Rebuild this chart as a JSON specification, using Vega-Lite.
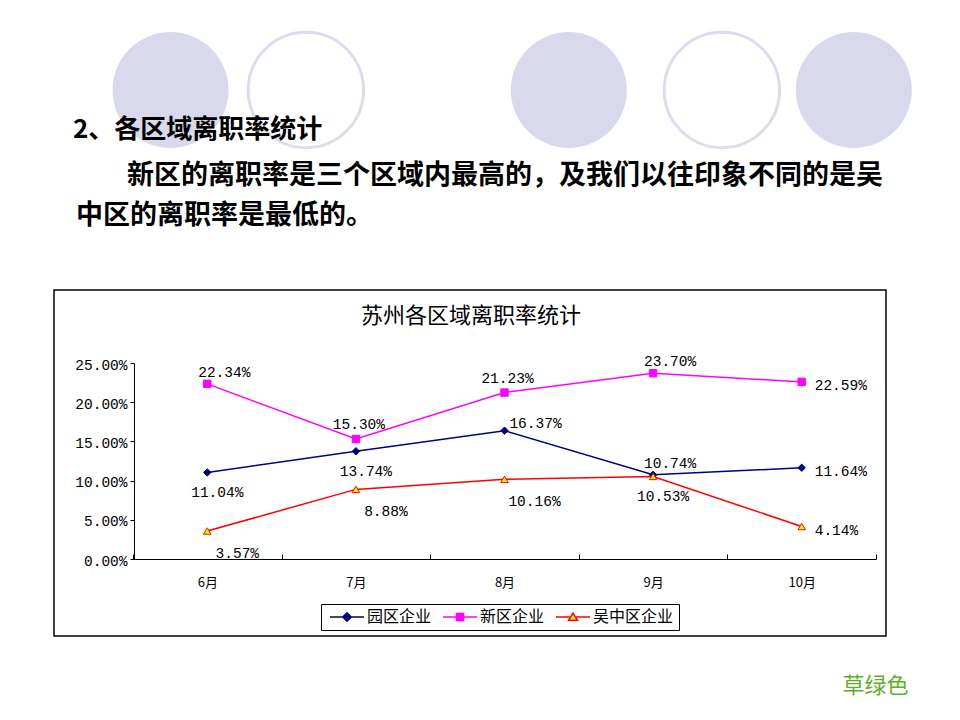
{
  "$schema": "https://vega.github.io/schema/vega-lite/v6.json",
  "width": 960,
  "height": 720,
  "padding": 0,
  "autosize": {"type": "none"},
  "background": "#ffffff",
  "config": {"view": {"stroke": null}, "font": "Noto Sans CJK SC"},
  "datasets": {
    "circles": [
      {"cx": 127.9, "cy": 67.5, "style": "filled"},
      {"cx": 229.4, "cy": 67.5, "style": "outline"},
      {"cx": 426.6, "cy": 67.5, "style": "filled"},
      {"cx": 541.4, "cy": 67.5, "style": "outline"},
      {"cx": 640.4, "cy": 67.5, "style": "filled"}
    ],
    "frame": [{"x0": 40.5, "y0": 217.5, "x1": 664.5, "y1": 477}],
    "texts": [
      {"kind": "heading", "text": "2、各区域离职率统计", "x": 54.75, "y": 97.5},
      {"kind": "para", "text": "新区的离职率是三个区域内最高的，及我们以往印象不同的是吴", "x": 95.25, "y": 132},
      {"kind": "para", "text": "中区的离职率是最低的。", "x": 57, "y": 162},
      {"kind": "title", "text": "苏州各区域离职率统计", "x": 353.25, "y": 237},
      {"kind": "note", "text": "草绿色", "x": 656.6, "y": 514.5}
    ],
    "rates": [
      {"month": "6月", "series": "园区企业", "rate": 0.1104, "pos": "below"},
      {"month": "7月", "series": "园区企业", "rate": 0.1374, "pos": "below"},
      {"month": "8月", "series": "园区企业", "rate": 0.1637, "pos": "right-above"},
      {"month": "9月", "series": "园区企业", "rate": 0.1074, "pos": "above-right"},
      {"month": "10月", "series": "园区企业", "rate": 0.1164, "pos": "right"},
      {"month": "6月", "series": "新区企业", "rate": 0.2234, "pos": "above-right"},
      {"month": "7月", "series": "新区企业", "rate": 0.153, "pos": "above"},
      {"month": "8月", "series": "新区企业", "rate": 0.2123, "pos": "above"},
      {"month": "9月", "series": "新区企业", "rate": 0.237, "pos": "above-right"},
      {"month": "10月", "series": "新区企业", "rate": 0.2259, "pos": "right"},
      {"month": "6月", "series": "吴中区企业", "rate": 0.0357, "pos": "below-right"},
      {"month": "7月", "series": "吴中区企业", "rate": 0.0888, "pos": "below-right"},
      {"month": "8月", "series": "吴中区企业", "rate": 0.1016, "pos": "below-right"},
      {"month": "9月", "series": "吴中区企业", "rate": 0.1053, "pos": "below"},
      {"month": "10月", "series": "吴中区企业", "rate": 0.0414, "pos": "right"}
    ]
  },
  "layer": [
    {
      "layer": [
        {
          "data": {"name": "circles"},
          "transform": [{"filter": {"field": "style", "equal": "filled"}}],
          "mark": {"type": "point", "shape": "circle", "filled": true, "size": 13456, "color": "#d9d9ed", "opacity": 1, "strokeWidth": 0},
          "encoding": {
            "x": {"field": "cx", "type": "quantitative", "scale": {"domain": [0, 720], "nice": false, "zero": false}, "axis": null},
            "y": {"field": "cy", "type": "quantitative", "scale": {"domain": [0, 540], "reverse": true, "nice": false, "zero": false}, "axis": null}
          }
        },
        {
          "data": {"name": "circles"},
          "transform": [{"filter": {"field": "style", "equal": "outline"}}],
          "mark": {"type": "point", "shape": "circle", "filled": false, "size": 13317, "color": "#dcdcef", "opacity": 1, "strokeWidth": 3},
          "encoding": {
            "x": {"field": "cx", "type": "quantitative", "scale": {"domain": [0, 720], "nice": false, "zero": false}, "axis": null},
            "y": {"field": "cy", "type": "quantitative", "scale": {"domain": [0, 540], "reverse": true, "nice": false, "zero": false}, "axis": null}
          }
        },
        {
          "data": {"name": "frame"},
          "mark": {"type": "rect", "fill": "#ffffff", "stroke": "#000000", "strokeWidth": 1.5},
          "encoding": {
            "x": {"field": "x0", "type": "quantitative", "scale": {"domain": [0, 720], "nice": false, "zero": false}, "axis": null},
            "x2": {"field": "x1"},
            "y": {"field": "y0", "type": "quantitative", "scale": {"domain": [0, 540], "reverse": true, "nice": false, "zero": false}, "axis": null},
            "y2": {"field": "y1"}
          }
        },
        {
          "data": {"name": "texts"},
          "transform": [{"filter": {"field": "kind", "equal": "heading"}}],
          "mark": {"type": "text", "align": "left", "baseline": "middle", "font": "Noto Sans CJK SC", "fontSize": 26, "fontWeight": "bold", "color": "#000000"},
          "encoding": {
            "x": {"field": "x", "type": "quantitative", "scale": {"domain": [0, 720], "nice": false, "zero": false}, "axis": null},
            "y": {"field": "y", "type": "quantitative", "scale": {"domain": [0, 540], "reverse": true, "nice": false, "zero": false}, "axis": null},
            "text": {"field": "text"}
          }
        },
        {
          "data": {"name": "texts"},
          "transform": [{"filter": {"field": "kind", "equal": "para"}}],
          "mark": {"type": "text", "align": "left", "baseline": "middle", "font": "Noto Sans CJK SC", "fontSize": 27, "fontWeight": "bold", "color": "#000000"},
          "encoding": {
            "x": {"field": "x", "type": "quantitative", "scale": {"domain": [0, 720], "nice": false, "zero": false}, "axis": null},
            "y": {"field": "y", "type": "quantitative", "scale": {"domain": [0, 540], "reverse": true, "nice": false, "zero": false}, "axis": null},
            "text": {"field": "text"}
          }
        },
        {
          "data": {"name": "texts"},
          "transform": [{"filter": {"field": "kind", "equal": "title"}}],
          "mark": {"type": "text", "align": "center", "baseline": "middle", "font": "Noto Sans CJK SC", "fontSize": 22, "fontWeight": "normal", "color": "#000000"},
          "encoding": {
            "x": {"field": "x", "type": "quantitative", "scale": {"domain": [0, 720], "nice": false, "zero": false}, "axis": null},
            "y": {"field": "y", "type": "quantitative", "scale": {"domain": [0, 540], "reverse": true, "nice": false, "zero": false}, "axis": null},
            "text": {"field": "text"}
          }
        },
        {
          "data": {"name": "texts"},
          "transform": [{"filter": {"field": "kind", "equal": "note"}}],
          "mark": {"type": "text", "align": "center", "baseline": "middle", "font": "Noto Sans CJK SC", "fontSize": 22, "color": "#5db02a"},
          "encoding": {
            "x": {"field": "x", "type": "quantitative", "scale": {"domain": [0, 720], "nice": false, "zero": false}, "axis": null},
            "y": {"field": "y", "type": "quantitative", "scale": {"domain": [0, 540], "reverse": true, "nice": false, "zero": false}, "axis": null},
            "text": {"field": "text"}
          }
        }
      ]
    },
    {
      "data": {"name": "rates"},
      "encoding": {
        "x": {"field": "month", "type": "nominal", "sort": ["6月", "7月", "8月", "9月", "10月"], "scale": {"type": "band", "range": [133, 876], "paddingInner": 0, "paddingOuter": 0}},
        "y": {"field": "rate", "type": "quantitative", "scale": {"domain": [0, 0.25], "range": [559, 363], "nice": false, "zero": true}}
      },
      "layer": [
        {
          "mark": {"type": "line", "strokeWidth": 1.5},
          "encoding": {
            "x": {"field": "month", "type": "nominal", "sort": ["6月", "7月", "8月", "9月", "10月"],
              "axis": {"orient": "bottom", "offset": -161, "zindex": 1, "title": null, "grid": false, "domainColor": "#000000", "domainWidth": 1, "tickColor": "#000000", "tickSize": -5, "tickBand": "extent", "labelAngle": 0, "labelFont": "Noto Sans CJK SC", "labelFontSize": 13, "labelColor": "#000000", "labelPadding": 22}},
            "y": {"field": "rate", "type": "quantitative",
              "axis": {"orient": "left", "offset": -134, "zindex": 1, "title": null, "grid": false, "values": [0, 0.05, 0.1, 0.15, 0.2, 0.25], "format": ".2%", "domainColor": "#000000", "tickColor": "#000000", "tickSize": 4, "labelFont": "Liberation Mono", "labelFontSize": 14.5, "labelColor": "#000000", "labelPadding": 3, "labelOffset": 2}},
            "stroke": {"field": "series", "type": "nominal", "scale": {"domain": ["园区企业", "新区企业", "吴中区企业"], "range": ["#000080", "#ff00ff", "#ff0000"]},
              "legend": {"title": null, "orient": "none", "legendX": 321, "legendY": 604, "direction": "horizontal", "strokeColor": "#000000", "fillColor": "#ffffff", "padding": 5, "symbolSize": 100, "symbolStrokeWidth": 1.5, "symbolOffset": 13, "labelOffset": 12, "columnPadding": 7, "labelFont": "Noto Sans CJK SC", "labelFontSize": 16, "labelColor": "#000000",
                "encoding": {"symbols": {
                  "shape": {"value": {"expr": "datum.value === '园区企业' ? 'M-3.4,0H3.4M0,-0.85L0.85,0L0,0.85L-0.85,0Z' : datum.value === '新区企业' ? 'M-3.4,0H3.4M-0.72,-0.72H0.72V0.72H-0.72Z' : 'M-3.4,0H-0.48M0.48,0H3.4M0,-0.78L0.88,0.66H-0.88Z'"}},
                  "opacity": {"value": 1},
                  "fillOpacity": {"value": 1}
                }}}}
          }
        },
        {
          "mark": {"type": "point", "filled": true, "size": 55, "strokeWidth": 1, "opacity": 1},
          "encoding": {
            "shape": {"field": "series", "type": "nominal", "scale": {"domain": ["吴中区企业", "园区企业", "新区企业"], "range": ["triangle-up", "diamond", "square"]}, "legend": null},
            "fill": {"field": "series", "type": "nominal", "scale": {"domain": ["园区企业", "新区企业", "吴中区企业"], "range": ["#000080", "#ff00ff", "#ffff00"]},
              "legend": {"title": null, "orient": "none", "legendX": 321, "legendY": 604, "direction": "horizontal", "strokeColor": "#000000", "fillColor": "#ffffff", "padding": 5, "symbolSize": 100, "symbolStrokeWidth": 1.5, "symbolOffset": 13, "labelOffset": 12, "columnPadding": 7, "labelFont": "Noto Sans CJK SC", "labelFontSize": 16, "labelColor": "#000000",
                "encoding": {"symbols": {
                  "shape": {"value": {"expr": "datum.value === '园区企业' ? 'M-3.4,0H3.4M0,-0.85L0.85,0L0,0.85L-0.85,0Z' : datum.value === '新区企业' ? 'M-3.4,0H3.4M-0.72,-0.72H0.72V0.72H-0.72Z' : 'M-3.4,0H-0.48M0.48,0H3.4M0,-0.78L0.88,0.66H-0.88Z'"}},
                  "opacity": {"value": 1},
                  "fillOpacity": {"value": 1}
                }}}},
            "stroke": {"field": "series", "type": "nominal",
              "legend": {"title": null, "orient": "none", "legendX": 321, "legendY": 604, "direction": "horizontal", "strokeColor": "#000000", "fillColor": "#ffffff", "padding": 5, "symbolSize": 100, "symbolStrokeWidth": 1.5, "symbolOffset": 13, "labelOffset": 12, "columnPadding": 7, "labelFont": "Noto Sans CJK SC", "labelFontSize": 16, "labelColor": "#000000",
                "encoding": {"symbols": {
                  "shape": {"value": {"expr": "datum.value === '园区企业' ? 'M-3.4,0H3.4M0,-0.85L0.85,0L0,0.85L-0.85,0Z' : datum.value === '新区企业' ? 'M-3.4,0H3.4M-0.72,-0.72H0.72V0.72H-0.72Z' : 'M-3.4,0H-0.48M0.48,0H3.4M0,-0.78L0.88,0.66H-0.88Z'"}},
                  "opacity": {"value": 1},
                  "fillOpacity": {"value": 1}
                }}}}
          }
        },
        {
          "transform": [{"filter": {"field": "pos", "equal": "above"}}],
          "mark": {"type": "text", "font": "Liberation Mono", "fontSize": 14.5, "color": "#000000", "align": "center", "baseline": "middle", "dx": 3, "dy": -14},
          "encoding": {"text": {"field": "rate", "type": "quantitative", "format": ".2%"}}
        },
        {
          "transform": [{"filter": {"field": "pos", "equal": "above-right"}}],
          "mark": {"type": "text", "font": "Liberation Mono", "fontSize": 14.5, "color": "#000000", "align": "center", "baseline": "middle", "dx": 17, "dy": -11},
          "encoding": {"text": {"field": "rate", "type": "quantitative", "format": ".2%"}}
        },
        {
          "transform": [{"filter": {"field": "pos", "equal": "right-above"}}],
          "mark": {"type": "text", "font": "Liberation Mono", "fontSize": 14.5, "color": "#000000", "align": "center", "baseline": "middle", "dx": 31, "dy": -7},
          "encoding": {"text": {"field": "rate", "type": "quantitative", "format": ".2%"}}
        },
        {
          "transform": [{"filter": {"field": "pos", "equal": "right"}}],
          "mark": {"type": "text", "font": "Liberation Mono", "fontSize": 14.5, "color": "#000000", "align": "left", "baseline": "middle", "dx": 13, "dy": 4},
          "encoding": {"text": {"field": "rate", "type": "quantitative", "format": ".2%"}}
        },
        {
          "transform": [{"filter": {"field": "pos", "equal": "below"}}],
          "mark": {"type": "text", "font": "Liberation Mono", "fontSize": 14.5, "color": "#000000", "align": "center", "baseline": "middle", "dx": 10, "dy": 21},
          "encoding": {"text": {"field": "rate", "type": "quantitative", "format": ".2%"}}
        },
        {
          "transform": [{"filter": {"field": "pos", "equal": "below-right"}}],
          "mark": {"type": "text", "font": "Liberation Mono", "fontSize": 14.5, "color": "#000000", "align": "center", "baseline": "middle", "dx": 30, "dy": 23},
          "encoding": {"text": {"field": "rate", "type": "quantitative", "format": ".2%"}}
        }
      ]
    }
  ],
  "resolve": {"scale": {"x": "independent", "y": "independent"}}
}
